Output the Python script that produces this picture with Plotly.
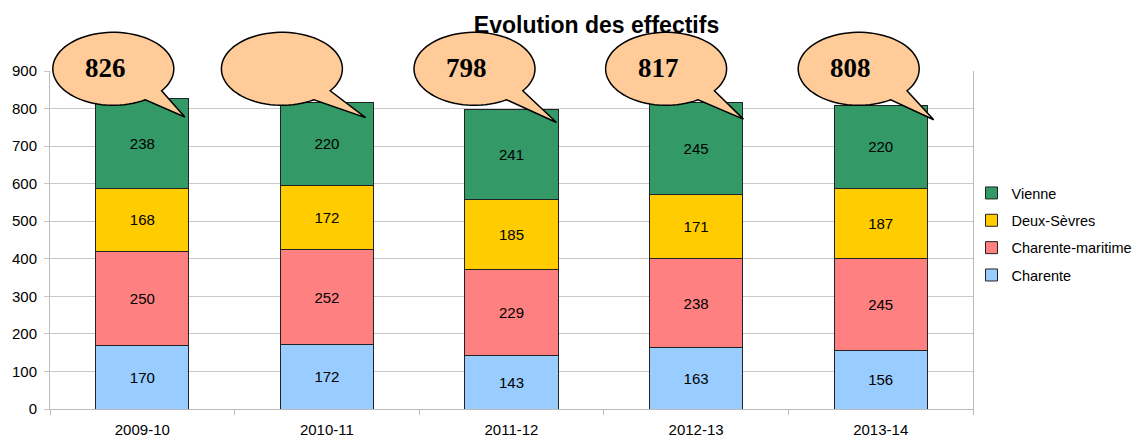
import numpy as np
import plotly.graph_objects as go

categories = ["2009-10", "2010-11", "2011-12", "2012-13", "2013-14"]
charente = [170, 172, 143, 163, 156]
charente_maritime = [250, 252, 229, 238, 245]
deux_sevres = [168, 172, 185, 171, 187]
vienne = [238, 220, 241, 245, 220]
total_labels = ["826", "", "798", "817", "808"]

series = [
    ("Charente", charente, "#99CCFF", 4),
    ("Charente-maritime", charente_maritime, "#FF8080", 3),
    ("Deux-Sèvres", deux_sevres, "#FFCC00", 2),
    ("Vienne", vienne, "#339966", 1),
]

FONT = "Liberation Sans, Arial, sans-serif"
FS = 15
PAGE = 8  # default page body margin compensation
WIDTH, HEIGHT = 1141 - PAGE, 439 - PAGE

# plot area in screen pixels
SL, SR, ST, SB = 50, 973, 70.7, 408.7
ML, MT = SL - PAGE, ST - PAGE
MR = WIDTH - (SR - PAGE)
MB = HEIGHT - (SB - PAGE)
PW, PH = SR - SL, SB - ST
STEP = PW / len(categories)

fig = go.Figure()
for name, vals, col, rank in series:
    fig.add_trace(go.Bar(
        x=categories, y=vals, name=name, legendgroup=name, legendrank=rank,
        marker=dict(color=col, line=dict(color="#222222", width=1)),
        texttemplate="%{y}", textposition="inside", insidetextanchor="middle",
        textangle=0, textfont=dict(family=FONT, size=FS, color="black"),
    ))

def px2x(px):
    return (px - SL) / PW

def px2y(py):
    return (SB - py) / PH

# speech bubble layout (pixel offsets, styling only)
bubble_dx = [-29, -45, -37, -30, -22]
tip_rel = [(71.5, 48.2), (83.7, 48.8), (82, 53.7), (77.3, 50.3), (75, 51)]
RX, RY, CY = 60.5, 36.5, 68.5
a0, a1 = np.deg2rad(58), np.deg2rad(37 + 360)

shapes = []
annotations = []
for i, lab in enumerate(total_labels):
    cx = SL + STEP * (i + 0.5) + bubble_dx[i]
    ang = np.linspace(a0, a1, 80)
    xs = cx + RX * np.cos(ang)
    ys = CY + RY * np.sin(ang)
    tx, ty = cx + tip_rel[i][0], CY + tip_rel[i][1]
    path = "M" + " L".join(f"{px2x(x):.5f},{px2y(y):.5f}" for x, y in zip(xs, ys))
    path += f" L{px2x(tx):.5f},{px2y(ty):.5f} Z"
    shapes.append(dict(type="path", xref="paper", yref="paper", path=path,
                       fillcolor="#FFCC99", line=dict(color="black", width=1.5),
                       layer="above"))
    if lab:
        annotations.append(dict(xref="paper", yref="paper", x=px2x(cx - 8), y=px2y(67.5),
                                text=lab, showarrow=False, xanchor="center", yanchor="middle",
                                font=dict(family="Liberation Serif, Times New Roman, serif",
                                          size=27, color="black", weight="bold")))

fig.update_layout(
    width=WIDTH, height=HEIGHT,
    margin=dict(l=ML, r=MR, t=MT, b=MB, autoexpand=False),
    barmode="stack", bargap=0.496,
    plot_bgcolor="white", paper_bgcolor="white",
    font=dict(family=FONT, size=FS, color="black"),
    title=dict(text="<b>Evolution des effectifs</b>", x=(596.5 - PAGE) / WIDTH, xanchor="center",
               y=1 - (25 - PAGE) / HEIGHT, yanchor="middle", xref="container", yref="container",
               font=dict(family=FONT, size=23, color="black")),
    legend=dict(x=px2x(971.5), xanchor="left", y=px2y(233.7), yanchor="middle",
                traceorder="grouped", tracegroupgap=5.5,
                font=dict(family=FONT, size=14.5, color="black"),
                bgcolor="rgba(0,0,0,0)"),
    xaxis=dict(type="category", showgrid=False, showline=True, linecolor="#BBBBBB",
               linewidth=1, ticks="outside", tickson="boundaries", ticklen=5,
               tickcolor="#BBBBBB", tickfont=dict(family=FONT, size=FS),
               automargin=False, ticklabelstandoff=7),
    yaxis=dict(range=[0, 900], dtick=100, showgrid=True, gridcolor="#C8C8C8",
               showline=True, linecolor="#BBBBBB", mirror=True, ticks="outside",
               ticklen=5, tickcolor="#C8C8C8", tickfont=dict(family=FONT, size=FS),
               zeroline=False, automargin=False, ticklabelstandoff=4),
    shapes=shapes, annotations=annotations,
    showlegend=True,
)

fig.write_html("out.html")
